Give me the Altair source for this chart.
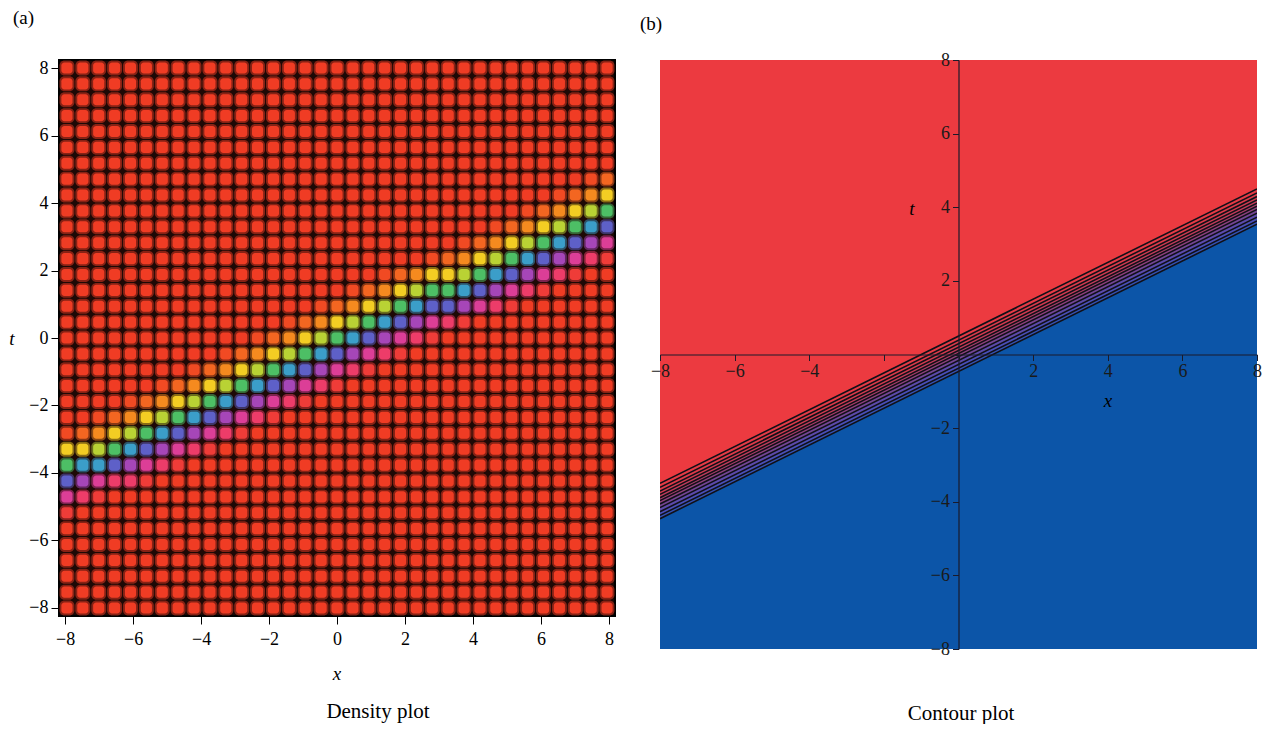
import altair as alt
import pandas as pd

# ---------------- data ----------------
# panel (a): density plot, 35 x 35 cells, colour band along a line
N_CELLS = 35
xa_domain = [-8.18, 8.18]
ya_domain = [-8.24, 8.24]
# band centre (green cells) read at the two edges
band_center_x = [-8, 8]
band_center_t = [-3.9, 3.8]
# density value against distance d = t - centre(x)
band_d = [1.15, 0.92, 0.7, 0.47, 0.23, 0.0, -0.23, -0.47, -0.7, -0.92, -1.15, -1.38]
band_val = [0.02, 0.06, 0.11, 0.19, 0.29, 0.41, 0.53, 0.65, 0.76, 0.86, 0.93, 0.98]
hue_stops = [0.0, 0.1, 0.2, 0.3, 0.4, 0.5, 0.6, 0.7, 0.8, 0.9, 1.0]
hue_colors = ["#f03c24", "#f5821f", "#f3d523", "#b3d236", "#4fc05a", "#38b2c8",
              "#4170cc", "#7a50c4", "#c440b0", "#ec3c86", "#f03c24"]

# panel (b): contour plot, contour lines t = x/2 + c
contour_c = [0.5, 0.39, 0.29, 0.2, 0.11, 0.03, -0.06, -0.16, -0.27, -0.37, -0.46]
band_fill = ["#e63a45", "#dd3a49", "#d23a4f", "#c23b5a", "#ab3d69", "#90407e",
             "#744594", "#5c4aab", "#4a4fb8", "#3552b4"]
x_ends = [-8, 8]

tick_vals = list(range(-8, 9))
texts = {"a": "(a)", "b": "(b)", "capA": "Density plot", "capB": "Contour plot",
         "t": "t", "x": "x"}

SERIF = "Liberation Serif"

# ---------------- panel (a) ----------------
cw = (xa_domain[1] - xa_domain[0]) / N_CELLS
ch = (ya_domain[1] - ya_domain[0]) / N_CELLS
slope = (band_center_t[1] - band_center_t[0]) / (band_center_x[1] - band_center_x[0])
cells = []
for i in range(N_CELLS):
    for j in range(N_CELLS):
        cx = xa_domain[0] + (i + 0.5) * cw
        cy = ya_domain[0] + (j + 0.5) * ch
        d = cy - (band_center_t[0] + slope * (cx - band_center_x[0]))
        if d > band_d[0] + 0.12:
            v = 0.0
        elif d < band_d[-1] - 0.12:
            v = 1.0
        else:
            idx = min(range(len(band_d)), key=lambda n: abs(band_d[n] - d))
            v = band_val[idx]
        cells.append(dict(cx=cx, cy=cy, hw=cw / 2, hh=ch / 2, v=v))
dfa = pd.DataFrame(cells)

xs_a = alt.Scale(domain=xa_domain, nice=False, zero=False)
ys_a = alt.Scale(domain=ya_domain, nice=False, zero=False)
col_scale = alt.Scale(domain=hue_stops, range=hue_colors, interpolate="rgb")

lab_expr = "datum.value % 2 === 0 ? datum.label : ''"
tick_cond = {"condition": {"test": "datum.value % 2 === 0", "value": 8}, "value": 4}

ax_xa = alt.Axis(values=tick_vals, labelExpr=lab_expr, title=None, grid=False,
                 tickSize=tick_cond, tickColor="black", domain=False,
                 labelFont=SERIF, labelFontSize=18, labelColor="black",
                 labelPadding=6, labelFlush=False, labelOverlap=False)
ax_ya = alt.Axis(values=tick_vals, labelExpr=lab_expr, title=None, grid=False,
                 tickSize=tick_cond, tickColor="black", domain=False,
                 labelFont=SERIF, labelFontSize=18, labelColor="black",
                 labelPadding=3, labelFlush=False, labelOverlap=False)

base_a = alt.Chart(dfa)
outer = base_a.transform_calculate(
    x1="datum.cx - datum.hw*0.94", x2="datum.cx + datum.hw*0.94",
    y1="datum.cy - datum.hh*0.94", y2="datum.cy + datum.hh*0.94"
).mark_rect(cornerRadius=5, opacity=0.5).encode(
    x=alt.X("x1:Q", scale=xs_a, axis=ax_xa),
    x2="x2:Q",
    y=alt.Y("y1:Q", scale=ys_a, axis=ax_ya),
    y2="y2:Q",
    color=alt.Color("v:Q", scale=col_scale, legend=None),
)
inner = base_a.transform_calculate(
    x1="datum.cx - datum.hw*0.7", x2="datum.cx + datum.hw*0.7",
    y1="datum.cy - datum.hh*0.7", y2="datum.cy + datum.hh*0.7"
).mark_rect(cornerRadius=3).encode(
    x=alt.X("x1:Q", scale=xs_a),
    x2="x2:Q",
    y=alt.Y("y1:Q", scale=ys_a),
    y2="y2:Q",
    color=alt.Color("v:Q", scale=col_scale, legend=None),
)

def label(txt, x, y, size=20, style="normal", align="center"):
    return alt.Chart(pd.DataFrame({"s": [txt]})).mark_text(
        font=SERIF, fontSize=size, fontStyle=style, color="black",
        align=align, baseline="middle"
    ).encode(x=alt.value(x), y=alt.value(y), text="s:N")

W_A, H_A = 556, 556
panel_a = alt.layer(
    outer, inner,
    label(texts["a"], -46, -42, 19, align="left"),
    label(texts["t"], -47, 279, 19, "italic"),
    label(texts["x"], 278, 614, 19, "italic"),
    label(texts["capA"], 319, 652, 21),
).properties(width=W_A, height=H_A,
             view=alt.ViewBackground(fill="#1e0906", stroke="black", strokeWidth=2))

# ---------------- panel (b) ----------------
W_B, H_B = 597, 589
rows_b = []
for n in range(len(contour_c) - 1):
    for x in x_ends:
        rows_b.append(dict(x=x, top=0.5 * x + contour_c[n], bot=0.5 * x + contour_c[n + 1],
                           band=n, fill=band_fill[n]))
dfb_bands = pd.DataFrame(rows_b)
dfb_blue = pd.DataFrame({"x": x_ends,
                         "top": [0.5 * x + contour_c[-1] for x in x_ends],
                         "bot": [-8, -8]})
dfb_lines = pd.DataFrame([dict(x=x, t=0.5 * x + c, lev=n)
                          for n, c in enumerate(contour_c) for x in x_ends])

xs_b = alt.Scale(domain=[-8, 8], nice=False, zero=False)
ys_b = alt.Scale(domain=[-8, 8], nice=False, zero=False)
tick_b = {"condition": {"test": "datum.value % 2 === 0", "value": 6}, "value": 4}
ax_xb = alt.Axis(values=tick_vals,
                 labelExpr="(datum.value % 2 === 0 && datum.value !== 0 && datum.value !== -2) ? datum.label : ''",
                 title=None, grid=False, offset=-H_B / 2, zindex=2,
                 domainColor="#1a1a2a", domainWidth=1.2, tickColor="#1a1a2a",
                 tickSize=tick_b, labelFont=SERIF, labelFontSize=18, labelColor="#1a1a1a",
                 labelPadding=2, labelFlush=False, labelOverlap=False)
ax_yb = alt.Axis(values=tick_vals,
                 labelExpr="(datum.value % 2 === 0 && datum.value !== 0) ? datum.label : ''",
                 title=None, grid=False, offset=-W_B / 2, zindex=2,
                 domainColor="#1a1a2a", domainWidth=1.2, tickColor="#1a1a2a",
                 tickSize=tick_b, labelFont=SERIF, labelFontSize=18, labelColor="#1a1a1a",
                 labelPadding=3, labelFlush=False, labelOverlap=False)

blue = alt.Chart(dfb_blue).mark_area(color="#0c55a8", clip=True).encode(
    x=alt.X("x:Q", scale=xs_b, axis=ax_xb),
    y=alt.Y("top:Q", scale=ys_b, axis=ax_yb),
    y2="bot:Q",
)
bands = alt.Chart(dfb_bands).mark_area(clip=True).encode(
    x=alt.X("x:Q", scale=xs_b),
    y=alt.Y("top:Q", scale=ys_b),
    y2="bot:Q",
    detail="band:N",
    color=alt.Color("fill:N", scale=None),
)
lines = alt.Chart(dfb_lines).mark_line(color="#101018", strokeWidth=1.6, clip=True).encode(
    x=alt.X("x:Q", scale=xs_b),
    y=alt.Y("t:Q", scale=ys_b),
    detail="lev:N",
)

panel_b = alt.layer(
    blue, bands, lines,
    label(texts["b"], -20, -36, 19, align="left"),
    label(texts["t"], 252, 149, 19, "italic"),
    label(texts["x"], 448, 341, 19, "italic"),
    label(texts["capB"], 301, 654, 21),
).properties(width=W_B, height=H_B,
             view=alt.ViewBackground(fill="#ec3a40", stroke=None))

chart = alt.hconcat(panel_a, panel_b, spacing=24).properties(
    padding=0, background="white"
).resolve_scale(x="independent", y="independent", color="independent")

chart.save("out.html", embed_options={"renderer": "svg", "actions": False})
